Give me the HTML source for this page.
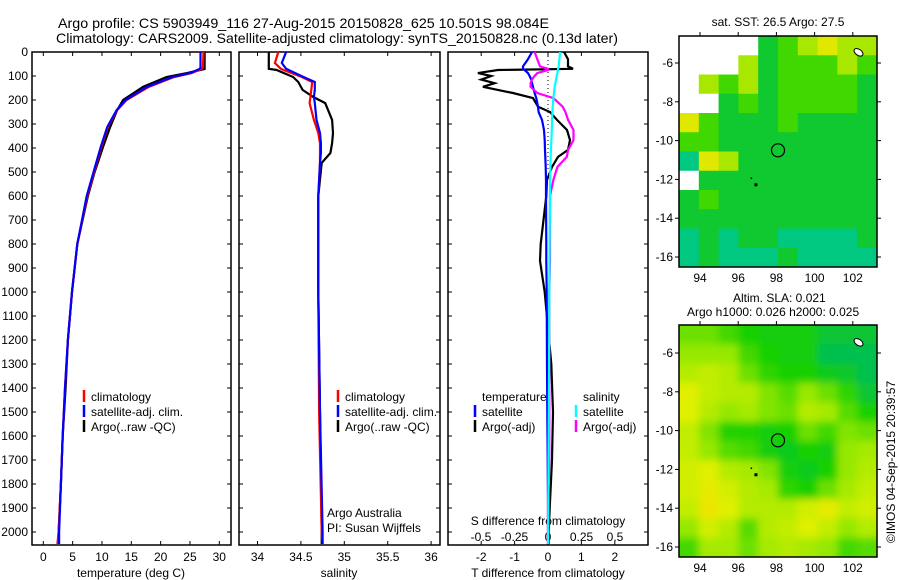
<!DOCTYPE html>
<html><head><meta charset="utf-8"><style>
body{margin:0;background:#fff}
svg{display:block;font-family:"Liberation Sans",sans-serif}
text{fill:#000}
</style></head><body>
<svg id="s" width="900" height="580" viewBox="0 0 900 580" xmlns="http://www.w3.org/2000/svg">
<text x="58" y="28" font-size="14" textLength="491" lengthAdjust="spacingAndGlyphs">Argo profile: CS 5903949_116 27-Aug-2015 20150828_625 10.501S 98.084E</text>
<text x="56" y="43" font-size="14" textLength="562" lengthAdjust="spacingAndGlyphs">Climatology: CARS2009. Satellite-adjusted climatology: synTS_20150828.nc (0.13d later)</text>
<g id="g"></g>
</svg>
<script>
// ---- temperature panel data ----
const tDepth=[0,65,71,88,104,145,200,242,312,395,505,600,800,1000,1200,1400,1600,1800,2000,2050];
const tArgo=[27.5,27.5,27.5,24.5,21,17,13.6,12.6,11.4,10.2,8.7,7.6,5.8,4.9,4.2,3.8,3.3,3.0,2.6,2.5];
const tClim=[27.3,27.2,27.0,25.3,22.3,18.0,14.2,12.6,11.0,9.9,8.6,7.5,5.8,4.9,4.2,3.7,3.3,3.0,2.6,2.4];
const tSat=[26.8,26.8,26.6,25.0,22.0,17.7,14.0,12.5,10.9,9.8,8.5,7.4,5.8,4.9,4.2,3.7,3.3,3.0,2.7,2.7];
// ---- salinity panel data ----
const sDepth=[0,46,70,75,104,125,158,187,213,283,338,380,421,462,600,1000,1500,2000,2050];
const sArgo=[34.13,34.13,34.13,34.22,34.41,34.47,34.52,34.64,34.78,34.86,34.87,34.86,34.84,34.74,34.70,34.70,34.72,34.74,34.74];
const sClim=[34.24,34.20,34.27,34.30,34.51,34.63,34.62,34.61,34.60,34.65,34.70,34.72,34.72,34.72,34.70,34.70,34.71,34.74,34.75];
const sSat=[34.33,34.28,34.33,34.36,34.53,34.66,34.66,34.65,34.66,34.68,34.72,34.73,34.73,34.72,34.70,34.70,34.72,34.75,34.75];
// ---- difference panel data ----
const dDepth=[0,30,60,70,75,88,100,115,130,145,171,192,228,250,283,325,367,408,437,479,533,600,800,870,1000,1300,1500,1700,1900,2000,2050];
const dTArgo=[0.48,0.6,0.6,0.75,-1.5,-2.1,-1.7,-2.0,-1.6,-1.95,-1.05,-0.45,-0.3,0.06,0.27,0.57,0.66,0.6,0.3,0.12,-0.03,-0.05,-0.22,-0.24,-0.1,0.1,0.15,0.12,0.05,0.02,0.02];
const dTSat=[-0.48,-0.6,-0.75,-0.75,-0.7,-0.6,-0.55,-0.5,-0.48,-0.45,-0.4,-0.35,-0.3,-0.28,-0.18,-0.12,-0.1,-0.09,-0.08,-0.07,-0.06,-0.06,-0.05,-0.05,-0.04,-0.03,-0.02,-0.01,0,0,0];
const dSArgo=[-0.1,-0.08,-0.06,0,0,-0.08,-0.1,-0.12,-0.13,-0.13,-0.08,0.04,0.11,0.13,0.15,0.19,0.19,0.15,0.14,0.07,0.04,0.015,0.015,0.015,0.01,0.01,0.01,0.01,0,0,0];
const dSSat=[0.09,0.085,0.08,0.075,0.075,0.07,0.065,0.06,0.055,0.05,0.045,0.04,0.035,0.033,0.03,0.028,0.025,0.022,0.02,0.018,0.016,0.015,0.012,0.011,0.01,0.008,0.006,0.004,0.002,0.001,0.001];
// ---- tick labels ----
const depthTicks=[0,100,200,300,400,500,600,700,800,900,1000,1100,1200,1300,1400,1500,1600,1700,1800,1900,2000];
const tTicks=[0,5,10,15,20,25,30];
const sTicks=[34,34.5,35,35.5,36];
const dTTicks=[-2,-1,0,1,2];
const dSTicks=[-0.5,-0.25,0,0.25,0.5];
const dSTickLabels=["-0.5","-0.25","0","0.25","0.5"];
const lonTicks=[94,96,98,100,102];
const latTicks=[-6,-8,-10,-12,-14,-16];
// ---- SST map (category grid, rows north->south) ----
const sstRows=["0000345655","0005344454","0545344443","0034344443","6433343333","4433333333","2653333333","0333333333","3433333333","3333333333","2323322223","2322232222"];
// ---- SLA map (relative anomaly grid) ----
const slaRows=[
[0.5,0.5,0.4,0.3,0.28,0.28,0.28,0.2,0.2,0.2],
[0.6,0.6,0.6,0.4,0.3,0.28,0.28,0.15,0.15,0.15],
[0.7,0.75,0.7,0.5,0.35,0.3,0.3,0.25,0.22,0.15],
[0.85,0.75,0.7,0.7,0.55,0.45,0.6,0.5,0.35,0.2],
[0.85,0.7,0.6,0.65,0.55,0.5,0.7,0.65,0.45,0.3],
[0.75,0.55,0.32,0.32,0.28,0.3,0.5,0.4,0.55,0.5],
[0.75,0.6,0.45,0.4,0.28,0.25,0.3,0.28,0.6,0.65],
[0.8,0.85,0.7,0.65,0.55,0.28,0.25,0.3,0.6,0.7],
[0.8,0.9,0.8,0.7,0.65,0.35,0.3,0.5,0.65,0.75],
[0.75,0.95,0.85,0.7,0.7,0.7,0.8,0.9,0.75,0.8],
[0.6,0.8,0.7,0.45,0.7,0.75,0.85,0.75,0.6,0.7],
[0.4,0.65,0.65,0.5,0.65,0.7,0.65,0.6,0.4,0.45]];
const argoLon=98.084, argoLat=-10.501;

const NS="http://www.w3.org/2000/svg";
const G=document.getElementById('g');
function el(tag,attrs,parent){const e=document.createElementNS(NS,tag);for(const k in attrs)e.setAttribute(k,attrs[k]);(parent||G).appendChild(e);return e;}
function txt(x,y,s,size,anchor,parent){const e=el('text',{x:x,y:y,'font-size':size||12,'text-anchor':anchor||'start'},parent);e.textContent=s;return e;}

const yD=d=>52+d*0.24;
const xT=t=>43.3+t*5.867;
const xS=s=>257.5+(s-34)*86.8;
const xDT=v=>548+v*33.4;
const xDS=v=>548+v*134;

function box(x0,x1,y0,y1,name){const r=el('rect',{x:x0,y:y0,width:x1-x0,height:y1-y0,fill:'none',stroke:'#000','stroke-width':1.5});}
function line(pts,color,name){const p=el('polyline',{points:pts.map(q=>q[0].toFixed(1)+','+q[1].toFixed(1)).join(' '),fill:'none',stroke:color,'stroke-width':2.2});}
function tick(x1,y1,x2,y2){el('line',{x1:x1,y1:y1,x2:x2,y2:y2,stroke:'#000','stroke-width':1});}

const Y0=52,Y1=545;
box(32,231,Y0,Y1,'temperature-panel');
box(239,440,Y0,Y1,'salinity-panel');
box(448,648,Y0,Y1,'difference-panel');
depthTicks.forEach(d=>{const y=yD(d);const t=txt(28,y+4,String(d),12,'end');
 [[32,231],[239,440],[448,648]].forEach(([a,b])=>{tick(a,y,a+4,y);tick(b,y,b-4,y);});});
tTicks.forEach(v=>{const x=xT(v);tick(x,Y1,x,Y1-4);tick(x,Y0,x,Y0+4);const t=txt(x,561,String(v),12,'middle');});
sTicks.forEach(v=>{const x=xS(v);tick(x,Y1,x,Y1-4);tick(x,Y0,x,Y0+4);const t=txt(x,561,String(v),12,'middle');});
dTTicks.forEach(v=>{const x=xDT(v);tick(x,Y1,x,Y1-4);tick(x,Y0,x,Y0+4);const t=txt(x,561,String(v),12,'middle');});
dSTicks.forEach((v,i)=>{const t=txt(xDS(v),541,dSTickLabels[i],12,'middle');});
let a;
a=txt(131,577,'temperature (deg C)',12,'middle');
a=txt(339,577,'salinity',12,'middle');
a=txt(548,577,'T difference from climatology',12,'middle');
a=txt(548,525,'S difference from climatology',12,'middle');

el('line',{x1:xDT(0),y1:Y0,x2:xDT(0),y2:yD(500),stroke:'#000','stroke-width':1,'stroke-dasharray':'1,3'});

const zip=(xs,ds,f)=>ds.map((d,i)=>[f(xs[i]),yD(d)]);
line(zip(tArgo,tDepth,xT),'#000','temp-argo-line');
line(zip(tClim,tDepth,xT),'#f00','temp-climatology-line');
line(zip(tSat,tDepth,xT),'#00f','temp-satellite-line');
line(zip(sArgo,sDepth,xS),'#000','sal-argo-line');
line(zip(sClim,sDepth,xS),'#f00','sal-climatology-line');
line(zip(sSat,sDepth,xS),'#00f','sal-satellite-line');
line(zip(dTArgo,dDepth,xDT),'#000','tdiff-argo-line');
line(zip(dTSat,dDepth,xDT),'#00f','tdiff-satellite-line');
line(zip(dSArgo,dDepth,xDS),'#f0f','sdiff-argo-line');
line(zip(dSSat,dDepth,xDS),'#0ff','sdiff-satellite-line');

function leg(x,y,color,label,name){el('line',{x1:x,y1:y-7,x2:x,y2:y+5,stroke:color,'stroke-width':2.5});const t=txt(x+7,y+4,label,12);}
[[84],[338]].forEach(([x])=>{leg(x,397,'#f00','climatology','legend-climatology');leg(x,412,'#00f','satellite-adj. clim.','legend-satellite');leg(x,427,'#000','Argo(..raw -QC)','legend-argo');});
a=txt(482,401,'temperature',12);
a=txt(583,401,'salinity',12);
leg(475,412,'#00f','satellite','legend-t-satellite');leg(475,427,'#000','Argo(-adj)','legend-t-argo');
leg(576,412,'#0ff','satellite','legend-s-satellite');leg(576,427,'#f0f','Argo(-adj)','legend-s-argo');
a=txt(327,517,'Argo Australia',12);
a=txt(327,532,'PI: Susan Wijffels',12);

// ---- maps ----
const MX0=679,MX1=877;
const lonX=l=>700+(l-94)*19.1;
function mapFrame(y0,y1,latY,name){
 const r=el('rect',{x:MX0,y:y0,width:MX1-MX0,height:y1-y0,fill:'none',stroke:'#000','stroke-width':1.5});
 lonTicks.forEach(l=>{const x=lonX(l);tick(x,y0,x,y0-4);const t=txt(x,y1+15,String(l),12,'middle');});
 latTicks.forEach(l=>{const y=latY(l);tick(MX0,y,MX0-4,y);tick(MX1,y,MX1+4,y);const t=txt(673,y+4,String(l),12,'end');});
}
function marker(latY){const c=el('circle',{cx:lonX(argoLon),cy:latY(argoLat),r:6.5,fill:'none',stroke:'#000','stroke-width':1.2});
 el('rect',{x:lonX(96.85),y:latY(-12.2),width:3,height:3,fill:'#000'});el('rect',{x:lonX(96.65),y:latY(-11.9),width:1.5,height:1.5,fill:'#000'});
 el('ellipse',{cx:lonX(102.3),cy:latY(-5.45),rx:5,ry:3,fill:'#fff',stroke:'#000','stroke-width':1,transform:'rotate(35 '+lonX(102.3)+' '+latY(-5.45)+')'});}

// SST map
const sTop=36,sBot=267;const latY1=l=>63+(-6-l)*19.4;
const sstCol=['#ffffff','#10a8e8','#00c880','#10c830','#40d800','#a8e800','#e0e800','#f0a000'];
const cw=(MX1-MX0)/10;
let ch=(sBot-sTop)/sstRows.length;
const sg=el('g',{});
sstRows.forEach((row,r)=>{[...row].forEach((c,k)=>{const e=el('rect',{x:MX0+k*cw,y:sTop+r*ch,width:cw+0.5,height:ch+0.5,fill:sstCol[+c]},sg);});});
mapFrame(sTop,sBot,latY1,'sst-map-frame');marker(latY1);
a=txt(778,26,'sat. SST: 26.5  Argo: 27.5',12,'middle');

// SLA map
const lTop=325,lBot=557;const latY2=l=>353+(-6-l)*19.4;
function slaColor(v){const st=[[0,[0,180,110]],[0.15,[0,192,80]],[0.3,[24,208,0]],[0.6,[150,232,0]],[0.85,[224,240,0]],[1,[240,224,0]]];
 for(let i=1;i<st.length;i++){if(v<=st[i][0]){const [a0,c0]=st[i-1],[a1,c1]=st[i];const f=(v-a0)/(a1-a0);return 'rgb('+c0.map((c,j)=>Math.round(c+(c1[j]-c)*f)).join(',')+')';}}return 'rgb(240,224,0)';}
const defs=el('defs',{});
const cpp=el('clipPath',{id:'slaclip'},defs);el('rect',{x:MX0,y:lTop,width:MX1-MX0,height:lBot-lTop},cpp);
const flt=el('filter',{id:'bl',x:'-10%',y:'-10%',width:'120%',height:'120%'},defs);el('feGaussianBlur',{stdDeviation:4},flt);
const lg0=el('g',{'clip-path':'url(#slaclip)'});
const lg=el('g',{filter:'url(#bl)'},lg0);
ch=(lBot-lTop)/slaRows.length;
slaRows.forEach((row,r)=>{row.forEach((v,k)=>{let x=MX0+k*cw,w=cw+0.5,y=lTop+r*ch,h=ch+0.5;if(k==0){x-=15;w+=15;}if(k==9)w+=15;if(r==0){y-=15;h+=15;}if(r==slaRows.length-1)h+=15;
 const e=el('rect',{x:x,y:y,width:w,height:h,fill:slaColor(v)},lg);});});
mapFrame(lTop,lBot,latY2,'sla-map-frame');marker(latY2);
a=txt(733,302,'Altim. SLA: 0.021',12);
a=txt(687,316,'Argo h1000: 0.026 h2000: 0.025',12);
a=txt(0,0,'©IMOS 04-Sep-2015 20:39:57',12,'middle');a.setAttribute('transform','translate(895 462) rotate(-90)');
</script>
</body></html>
